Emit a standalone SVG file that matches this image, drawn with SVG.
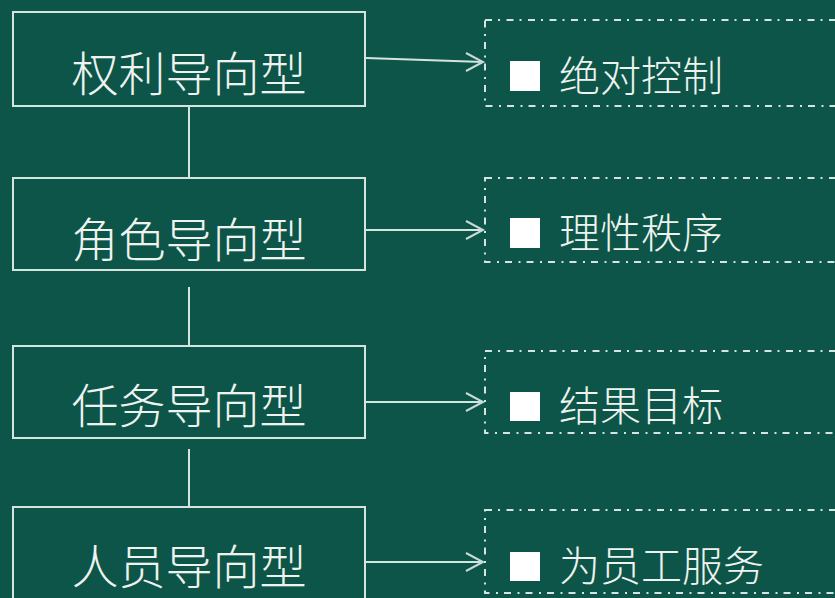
<svg xmlns="http://www.w3.org/2000/svg" width="835" height="598" viewBox="0 0 835 598">
<defs>
<style>
.box{fill:none;stroke:#d6e4e0;stroke-width:2}
.dbox{fill:none;stroke:#d6e4e0;stroke-width:2;stroke-dasharray:7 6 2 6.5}
.ln{fill:none;stroke:#d6e4e0;stroke-width:2}
.hd{fill:none;stroke:#c8dad5;stroke-width:2}
.t1{font-family:"Noto Sans CJK SC",sans-serif;font-weight:300;font-size:47px;fill:#eef3ef;text-anchor:middle}
.t2{font-family:"Noto Sans CJK SC",sans-serif;font-weight:300;font-size:41px;fill:#eef3ef}
.sq{fill:#ffffff}
</style>
</defs>
<rect width="835" height="598" fill="#0d5548"/>
<g id="connectors">
<line class="ln" x1="189" y1="106" x2="189" y2="178"/>
<line class="ln" x1="189" y1="287" x2="189" y2="346"/>
<line class="ln" x1="189" y1="449" x2="189" y2="507"/>
<line class="ln" x1="366" y1="58" x2="483" y2="62"/>
<path class="hd" d="M466,53 L483,62 L466,71"/>
<line class="ln" x1="366" y1="230" x2="483" y2="230"/>
<path class="hd" d="M466,221 L483,230 L466,239"/>
<line class="ln" x1="366" y1="402" x2="483" y2="402"/>
<path class="hd" d="M466,393 L483,402 L466,411"/>
<line class="ln" x1="366" y1="562" x2="483" y2="562"/>
<path class="hd" d="M466,553 L483,562 L466,571"/>
</g>
<g id="n1"><rect class="box" x="13" y="12" width="352" height="94"/><text class="t1" x="189" y="91">权利导向型</text></g>
<g id="n2"><rect class="box" x="13" y="178" width="352" height="92"/><text class="t1" x="189" y="257">角色导向型</text></g>
<g id="n3"><rect class="box" x="13" y="346" width="352" height="92"/><text class="t1" x="189" y="423">任务导向型</text></g>
<g id="n4"><rect class="box" x="13" y="507" width="352" height="110"/><text class="t1" x="189" y="584">人员导向型</text></g>
<g id="d1"><rect class="dbox" x="485" y="20" width="380" height="86"/><rect class="sq" x="510" y="61" width="30" height="30"/><text class="t2" x="559" y="91">绝对控制</text></g>
<g id="d2"><rect class="dbox" x="485" y="178" width="380" height="84"/><rect class="sq" x="510" y="218" width="30" height="30"/><text class="t2" x="559" y="248">理性秩序</text></g>
<g id="d3"><rect class="dbox" x="485" y="351" width="380" height="82"/><rect class="sq" x="510" y="392" width="30" height="29"/><text class="t2" x="559" y="421">结果目标</text></g>
<g id="d4"><rect class="dbox" x="485" y="510" width="380" height="83"/><rect class="sq" x="510" y="552" width="30" height="29"/><text class="t2" x="559" y="581">为员工服务</text></g>
</svg>
